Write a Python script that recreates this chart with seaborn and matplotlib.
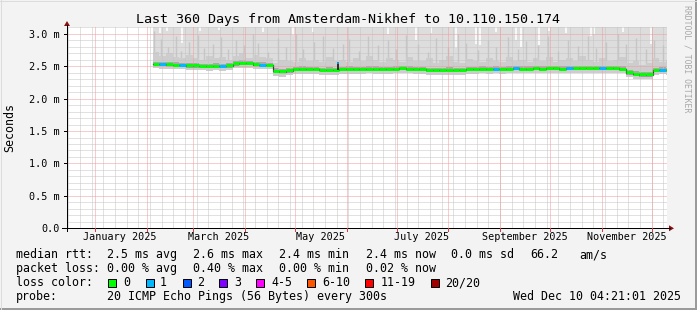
import matplotlib
matplotlib.use("Agg")
import matplotlib.pyplot as plt
import matplotlib.dates as mdates
import numpy as np
import pandas as pd
import seaborn as sns
from matplotlib.lines import Line2D
from matplotlib.patches import Rectangle, Polygon

# ---------------- data ----------------
title = "Last 360 Days from Amsterdam-Nikhef to 10.110.150.174"
y_label = "Seconds"
y_ticks = [0.0, 0.5, 1.0, 1.5, 2.0, 2.5, 3.0]
y_tick_labels = ["0.0", "0.5 m", "1.0 m", "1.5 m", "2.0 m", "2.5 m", "3.0 m"]
month_labels = ["January 2025", "March 2025", "May 2025", "July 2025",
                "September 2025", "November 2025"]
month_label_dates = ["2025-01-16", "2025-03-16", "2025-05-16", "2025-07-16",
                     "2025-09-16", "2025-11-16"]
range_start = "2024-12-15 04:21:01"
range_end = "2025-12-10 04:21:01"
first_sample = "2025-02-04 14:00"
sample_step_days = 4

median_rtt = [2.535, 2.530, 2.525, 2.520,
              2.515, 2.510, 2.510,
              2.505, 2.500, 2.505, 2.500, 2.510,
              2.540, 2.550, 2.545,
              2.525, 2.520, 2.515,
              2.425, 2.415, 2.430, 2.450, 2.455, 2.455, 2.450, 2.445, 2.445, 2.445,
              2.450, 2.455, 2.450, 2.455, 2.460, 2.455, 2.450, 2.455,
              2.460, 2.465, 2.460, 2.455, 2.450,
              2.440, 2.435, 2.440, 2.445, 2.440, 2.445, 2.450,
              2.455, 2.460, 2.455, 2.460, 2.455, 2.460, 2.465, 2.460, 2.460,
              2.465, 2.460, 2.465, 2.465, 2.460, 2.465, 2.470, 2.470, 2.475, 2.470,
              2.470, 2.465, 2.465, 2.460,
              2.400, 2.380, 2.370, 2.370,
              2.440, 2.445, 2.440]
loss = [0, 1, 0, 0, 1, 0, 0, 0, 0, 0,
        1, 0, 0, 0, 0, 0, 1, 0, 0, 0,
        0, 0, 0, 0, 0, 0, 0, 0, 0, 0,
        0, 0, 0, 0, 0, 0, 0, 0, 0, 0,
        0, 0, 0, 0, 0, 0, 0, 0, 0, 0,
        0, 1, 0, 0, 1, 0, 0, 0, 0, 0,
        0, 0, 1, 0, 0, 0, 0, 1, 0, 0,
        0, 0, 0, 0, 0, 0, 1, 0]
smoke_top = 3.2
smoke_q90 = [2.72, 2.66, 2.70, 2.64, 2.62, 2.68, 2.63, 2.60, 2.66, 2.62,
             2.64, 2.60, 2.66, 2.70, 2.62, 2.68, 2.64, 2.62, 2.55, 2.60,
             2.58, 2.57, 2.62, 2.58, 2.60, 2.56, 2.64, 2.58, 2.60, 2.56,
             2.62, 2.58, 2.66, 2.60, 2.56, 2.62, 2.60, 2.57, 2.64, 2.58,
             2.58, 2.62, 2.55, 2.59, 2.65, 2.57, 2.55, 2.61, 2.58, 2.56,
             2.63, 2.58, 2.56, 2.64, 2.58, 2.60, 2.56, 2.62, 2.58, 2.64,
             2.57, 2.60, 2.63, 2.58, 2.66, 2.59, 2.56, 2.62, 2.58, 2.60,
             2.64, 2.55, 2.58, 2.52, 2.55, 2.62, 2.57, 2.60]
smoke_q75 = [2.57, 2.57, 2.56, 2.56,
             2.55, 2.55, 2.55,
             2.54, 2.54, 2.55, 2.54, 2.55,
             2.58, 2.59, 2.58,
             2.56, 2.56, 2.55,
             2.47, 2.46, 2.47, 2.49, 2.50, 2.49, 2.49, 2.48, 2.49, 2.48,
             2.49, 2.50, 2.49, 2.49, 2.50, 2.50, 2.49, 2.49,
             2.50, 2.50, 2.50, 2.49, 2.49,
             2.48, 2.48, 2.48, 2.49, 2.48, 2.48, 2.49,
             2.49, 2.50, 2.49, 2.50, 2.49, 2.50, 2.50, 2.50, 2.50,
             2.50, 2.50, 2.50, 2.51, 2.50, 2.50, 2.51, 2.51, 2.51, 2.51,
             2.51, 2.50, 2.50, 2.50,
             2.44, 2.42, 2.41, 2.41,
             2.48, 2.49, 2.48]
smoke_q25 = [2.51, 2.50, 2.50, 2.49,
             2.49, 2.48, 2.48,
             2.48, 2.47, 2.48, 2.47, 2.48,
             2.51, 2.52, 2.52,
             2.50, 2.49, 2.49,
             2.39, 2.39, 2.40, 2.42, 2.43, 2.43, 2.42, 2.42, 2.42, 2.42,
             2.42, 2.43, 2.42, 2.43, 2.43, 2.43, 2.42, 2.43,
             2.43, 2.44, 2.43, 2.43, 2.42,
             2.41, 2.41, 2.41, 2.42, 2.41, 2.42, 2.42,
             2.43, 2.43, 2.43, 2.43, 2.43, 2.43, 2.44, 2.43, 2.43,
             2.44, 2.43, 2.44, 2.44, 2.43, 2.44, 2.44, 2.44, 2.45, 2.44,
             2.44, 2.44, 2.44, 2.43,
             2.37, 2.35, 2.34, 2.34,
             2.41, 2.42, 2.41]
smoke_min = [2.47, 2.46, 2.46, 2.45,
             2.45, 2.44, 2.44,
             2.44, 2.43, 2.44, 2.43, 2.44,
             2.47, 2.48, 2.47,
             2.46, 2.45, 2.45,
             2.35, 2.34, 2.36, 2.38, 2.38, 2.38, 2.38, 2.37, 2.37, 2.37,
             2.38, 2.38, 2.38, 2.38, 2.39, 2.38, 2.38, 2.38,
             2.39, 2.39, 2.39, 2.38, 2.38,
             2.37, 2.36, 2.37, 2.37, 2.37, 2.37, 2.38,
             2.38, 2.39, 2.38, 2.39, 2.38, 2.39, 2.39, 2.39, 2.39,
             2.39, 2.39, 2.39, 2.40, 2.39, 2.39, 2.40, 2.40, 2.40, 2.40,
             2.40, 2.39, 2.39, 2.39,
             2.33, 2.31, 2.30, 2.30,
             2.37, 2.38, 2.37]
# narrow gaps where the slowest ping stayed below the top (day offset, max ms)
gap_days = [4.5, 8.5, 17.5, 28.5, 40, 66, 84, 96, 141, 158, 167, 182, 194,
            196.5, 206, 218, 221, 232, 238, 248, 263, 264.5, 282, 299]
gap_tops = [3.01, 3.05, 2.86, 3.04, 3.06, 3.02, 2.98, 3.03, 3.00, 2.90,
            3.01, 2.78, 2.85, 2.83, 3.02, 2.90, 2.80, 2.83, 3.04, 3.01,
            2.97, 2.99, 3.03, 2.84]
# thin smoke spikes: day offset from first sample, top value (ms)
spike_days = [1, 5, 9, 14, 17, 22, 27, 31, 36, 41, 45, 50, 55, 60, 63, 69, 75,
              80, 86, 90, 97, 102, 108, 114, 118, 124, 129, 135, 141, 146, 152,
              159, 165, 170, 177, 183, 188, 195, 201, 206, 213, 219, 224, 231,
              237, 243, 249, 255, 261, 266, 272, 279, 284, 290, 296, 301, 306]
spike_tops = [3.05, 2.92, 2.80, 2.96, 2.74, 2.88, 2.98, 2.78, 2.84, 2.95,
              2.76, 2.90, 2.82, 2.99, 2.86, 2.72, 2.94, 2.80, 3.00, 2.76,
              2.88, 2.97, 2.78, 2.85, 2.92, 2.74, 2.96, 2.82, 2.90, 2.76,
              2.98, 2.84, 2.72, 2.93, 2.79, 2.99, 2.86, 2.75, 2.91, 2.80,
              2.95, 2.77, 2.89, 2.83, 2.97, 2.74, 2.90, 2.81, 2.96, 2.78,
              2.88, 3.00, 2.84, 2.93, 2.76, 2.90, 2.82]
blip_day = 111
blip_top = 2.57

loss_colors = ["#00ff00", "#00b8ff", "#0059ff", "#7e00ff", "#ff00ff",
               "#ff5500", "#ff0000", "#a10000"]
loss_names = ["0", "1", "2", "3", "4-5", "6-10", "11-19", "20/20"]

legend_rtt = ["2.5 ms avg", "2.6 ms max", "2.4 ms min", "2.4 ms now",
              "0.0 ms sd", "66.2", "am/s"]
legend_loss = ["0.00 % avg", "0.40 % max", "0.00 % min", "0.02 % now"]
probe_text = "20 ICMP Echo Pings (56 Bytes) every 300s"
stamp_text = "Wed Dec 10 04:21:01 2025"
watermark = "RRDTOOL / TOBI OETIKER"

# ---------------- layout ----------------
plt.rcParams['font.family'] = ['DejaVu Sans Mono']
plt.rcParams['lines.scale_dashes'] = False

W, H = 697, 310
PX = 0.72  # points per pixel
fig = plt.figure(figsize=(W / 100, H / 100), dpi=100, facecolor='#f3f3f3')


def fx(p):
    return p / W


def fy(p):
    return 1 - p / H


L, R, T, B = 67, 667, 27.3, 228.3
ax = fig.add_axes([fx(L), fy(B), (R - L) / W, (B - T) / H])
ax.set_facecolor('white')
for s in ax.spines.values():
    s.set_visible(False)

t0 = pd.Timestamp(range_start)
t1 = pd.Timestamp(range_end)
ax.set_xlim(mdates.date2num(t0), mdates.date2num(t1))
ax.set_ylim(0, 3.1)

dates = pd.date_range(first_sample, periods=len(median_rtt), freq=f"{sample_step_days}D")
edges = np.append(mdates.date2num(dates), mdates.date2num(t1))
x_first = mdates.date2num(pd.Timestamp(first_sample))


def stepv(a):
    a = np.asarray(a, float)
    return np.append(a, a[-1])


df = pd.DataFrame({"t": edges, "median": stepv(median_rtt)})

# smoke layers
ax.fill_between(edges, stepv(smoke_min), smoke_top, step='post',
                color='#dddddd', lw=0, zorder=1)
ax.vlines(x_first + np.asarray(gap_days), gap_tops, smoke_top, color='white',
          lw=1.6 * PX, zorder=1.2)
ax.vlines(x_first + np.asarray(spike_days, float), 2.5, spike_tops,
          color='#c6c6c6', lw=1.4 * PX, zorder=1.5)
ax.fill_between(edges, stepv(smoke_min), stepv(smoke_q90), step='post',
                color='#cdcdcd', lw=0, zorder=2)
ax.fill_between(edges, stepv(smoke_q25), stepv(smoke_q75), step='post',
                color='#a9a9a9', lw=0, zorder=2.2)

# grid (1px dotted lines)
dot = (0, (1 * PX, 1 * PX))
minor_col = '#c4c4c4'
major_col = '#f29b9b'
for v in np.arange(1, 32):
    if v % 5 != 0:
        ax.axhline(v / 10, color=minor_col, lw=PX, ls=dot, zorder=3)
weeks = pd.date_range("2024-12-16", t1, freq="7D")
for d in weeks:
    ax.axvline(mdates.date2num(d), color=minor_col, lw=PX, ls=dot, zorder=3)
for yv in y_ticks[1:]:
    ax.axhline(yv, color=major_col, lw=PX, ls=dot, zorder=3.1)
months = pd.date_range("2025-01-01", t1, freq="MS")
for d in months:
    ax.axvline(mdates.date2num(d), color=major_col, lw=PX, ls=dot, zorder=3.1)

# median line coloured by loss
sns.lineplot(data=df, x="t", y="median", drawstyle='steps-post', color='#3a3a3a',
             lw=1.2 * PX, ax=ax, zorder=4, legend=False)
seg_cols = [loss_colors[int(l)] for l in loss]
ax.hlines(np.asarray(median_rtt) + 0.004, edges[:-1], edges[1:], colors=seg_cols,
          lw=3 * PX, zorder=5)
blip_x = x_first + blip_day
ax.vlines([blip_x], [median_rtt[int(blip_day // sample_step_days)]], [blip_top],
          color='black', lw=1.5 * PX, zorder=5.5)
ax.vlines([blip_x], [blip_top - 0.03], [blip_top], color=loss_colors[1],
          lw=1.5 * PX, zorder=5.6)

# ticks / labels via the axes
ax.set_yticks(y_ticks, y_tick_labels)
ax.set_xticks(mdates.date2num(pd.to_datetime(month_label_dates)), month_labels)
ax.tick_params(axis='y', length=0, pad=5.0, labelsize=7.3)
ax.tick_params(axis='x', length=0, pad=3.0, labelsize=7.3)
ax.set_xlabel("")
ax.set_ylabel("")

# axis lines and arrows (figure pixel space)
fig.add_artist(Line2D([fx(L), fx(L)], [fy(231), fy(25)], color='black', lw=PX))
fig.add_artist(Line2D([fx(62), fx(670)], [fy(B), fy(B)], color='black', lw=PX))
arrow_col = '#8b1010'
fig.add_artist(Polygon([[fx(L - 3), fy(26)], [fx(L + 3), fy(26)], [fx(L), fy(21)]],
                       closed=True, color=arrow_col, lw=0))
fig.add_artist(Polygon([[fx(669), fy(B - 3)], [fx(669), fy(B + 3)], [fx(674), fy(B)]],
                       closed=True, color=arrow_col, lw=0))
for yv in y_ticks:
    yp = B - yv / 3.1 * (B - T)
    fig.add_artist(Line2D([fx(64), fx(L)], [fy(yp), fy(yp)], color='black', lw=PX))
span = mdates.date2num(t1) - mdates.date2num(t0)
for d in months:
    xp = L + (mdates.date2num(d) - mdates.date2num(t0)) / span * (R - L)
    fig.add_artist(Line2D([fx(xp), fx(xp)], [fy(B), fy(B + 3)], color='#d04040', lw=PX))

# title, y label, watermark
fig.text(fx(348), fy(23.3), title, ha='center', va='baseline', fontsize=9.6)
fig.text(fx(10), fy(127), y_label, ha='center', va='center', rotation=90, fontsize=8.4)
fig.text(fx(687), fy(5), watermark, ha='center', va='top', rotation=270,
         fontsize=5.9, color='#a8a8a8')

# legend
LS = 8.4
fig.text(fx(16), fy(258.3), "median rtt:", fontsize=LS, va='baseline')
for s, xp in zip(legend_rtt, [107.3, 193.3, 279.3, 365.7, 451, 530, 579.3]):
    fig.text(fx(xp), fy(258.3), s, fontsize=LS, va='baseline')
fig.text(fx(16), fy(272.3), "packet loss:", fontsize=LS, va='baseline')
for s, xp in zip(legend_loss, [107.3, 193.3, 279.3, 365.7]):
    fig.text(fx(xp), fy(272.3), s, fontsize=LS, va='baseline')
fig.text(fx(16), fy(286.3), "loss color:", fontsize=LS, va='baseline')
box_x = [108.3, 145.7, 182.7, 219.3, 256, 307.3, 365.3, 430.7]
lab_x = [123.3, 160, 197.3, 234.3, 271, 322.3, 380.7, 445.3]
for c, n, bx, lx in zip(loss_colors, loss_names, box_x, lab_x):
    fig.add_artist(Rectangle((fx(bx), fy(287)), 8 / W, 8 / H, transform=fig.transFigure,
                             facecolor=c, edgecolor='black', lw=PX))
    fig.text(fx(lx), fy(286.3), n, fontsize=LS, va='baseline')
fig.text(fx(16), fy(299.7), "probe:", fontsize=LS, va='baseline')
fig.text(fx(107.3), fy(299.7), probe_text, fontsize=LS, va='baseline')
fig.text(fx(512.7), fy(299.7), stamp_text, fontsize=LS, va='baseline')

# 3D frame
fig.add_artist(Line2D([0, 1], [fy(309), fy(309)], color='#9a9a9a', lw=2 * PX))
fig.add_artist(Line2D([fx(696), fx(696)], [0, 1], color='#9a9a9a', lw=2 * PX))
fig.add_artist(Line2D([0, 1], [fy(0.5), fy(0.5)], color='#dcdcdc', lw=PX))
fig.add_artist(Line2D([fx(0.5), fx(0.5)], [0, 1], color='#dcdcdc', lw=PX))

fig.savefig("out.png", dpi=100, facecolor=fig.get_facecolor())
